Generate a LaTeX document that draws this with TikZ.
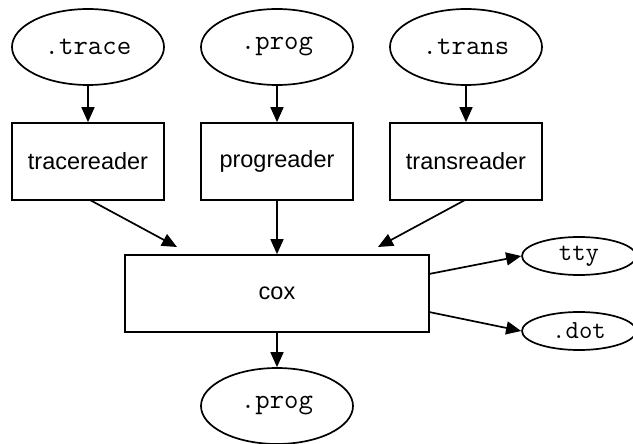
\documentclass[tikz,border=0pt]{standalone}
\usepackage{fontspec}
\setmainfont{Liberation Sans}
\usetikzlibrary{shapes.geometric,arrows.meta}
\begin{document}
\begin{tikzpicture}[x=1pt,y=-1pt,
  every path/.style={line width=1.7pt},
  ell/.style={draw,ellipse,inner sep=0pt,minimum width=152pt,minimum height=76pt,font=\ttfamily\fontsize{28}{28}\selectfont},
  smallell/.style={draw,ellipse,inner sep=0pt,minimum width=114pt,minimum height=38pt,font=\ttfamily\fontsize{26}{26}\selectfont},
  boxnode/.style={draw,rectangle,inner sep=0pt,minimum width=152pt,minimum height=77pt,font=\fontsize{23.5}{23.5}\selectfont},
  arr/.style={-{Triangle[length=15pt,width=13pt]},line width=1.7pt}]
\useasboundingbox (0,0) rectangle (633,444);
\node[ell] (e1) at (88,47) {.trace};
\node[ell] (e2) at (277,47) {.prog};
\node[ell] (e3) at (466,47) {.trans};
\node[boxnode] (b1) at (88,161.5) {tracereader};
\node[boxnode] (b2) at (277,161.5) {progreader};
\node[boxnode] (b3) at (466,161.5) {transreader};
\node[boxnode,minimum width=304pt,minimum height=77pt] (cox) at (277,293.5) {cox};
\node[ell] (out) at (277,406) {.prog};
\node[smallell] (tty) at (579,256) {tty};
\node[smallell] (dot) at (579,331) {.dot};
\coordinate (sL) at (90,200);
\coordinate (tL) at (177,247);
\coordinate (sR) at (465,200);
\coordinate (tR) at (378,247);
\coordinate (sA) at (429,274);
\coordinate (sB) at (429,312);
\draw[arr] (e1.south) -- (b1.north);
\draw[arr] (e2.south) -- (b2.north);
\draw[arr] (e3.south) -- (b3.north);
\draw[arr] (sL) -- (tL);
\draw[arr] (b2.south) -- (cox.north);
\draw[arr] (sR) -- (tR);
\draw[arr] (cox.south) -- (out.north);
\draw[arr] (sA) -- (tty.west);
\draw[arr] (sB) -- (dot.west);
\end{tikzpicture}
\end{document}
